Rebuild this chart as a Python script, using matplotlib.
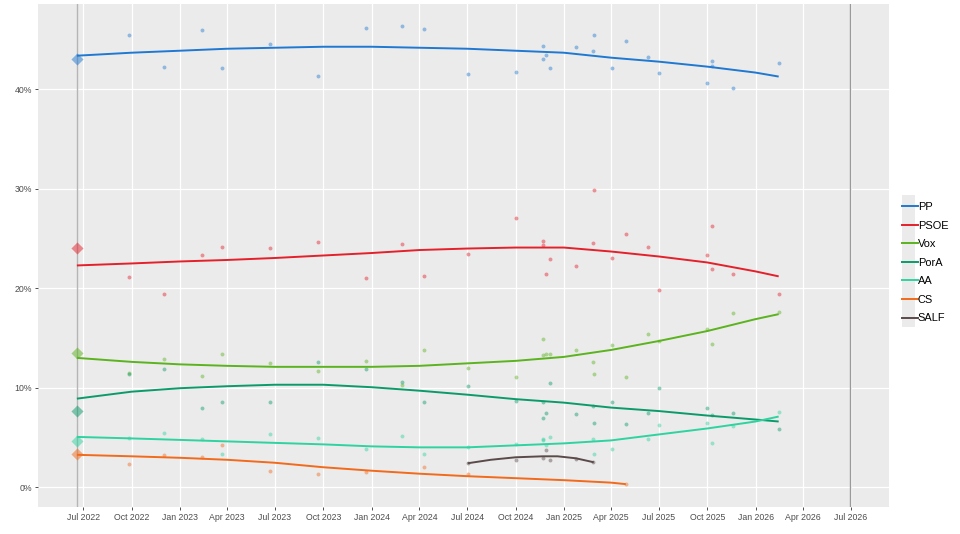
import matplotlib
matplotlib.use("Agg")
import matplotlib.pyplot as plt
import matplotlib.dates as mdates
from matplotlib.patches import Rectangle
from matplotlib.lines import Line2D
import numpy as np
import pandas as pd

plt.rcParams['font.family'] = ['Liberation Sans', 'DejaVu Sans']

parties = ["PP", "PSOE", "Vox", "PorA", "AA", "CS", "SALF"]
colors = ["#1F78D1", "#E4202A", "#5BB31E", "#0B9B6B", "#2ED3A0", "#F26A1B", "#5B4A4A"]

election_date = "2022-06-19"
election_result = {"PP": 43.1, "PSOE": 24.1, "Vox": 13.5, "PorA": 7.7, "AA": 4.6, "CS": 3.3}

N = None
poll_dates = ["2022-09-26", "2022-12-02", "2023-02-13", "2023-03-22", "2023-06-22",
              "2023-09-21", "2023-12-22", "2024-02-28", "2024-04-09", "2024-07-02",
              "2024-10-01", "2024-11-22", "2024-11-23", "2024-11-29", "2024-12-05",
              "2025-01-24", "2025-02-26", "2025-02-27", "2025-04-03", "2025-04-29",
              "2025-06-10", "2025-07-01", "2025-10-01", "2025-10-10", "2025-10-11",
              "2025-11-19", "2026-02-14"]
pp   = [45.5, 42.3, 46.0, 42.2, 44.6, 41.4, 46.2, 46.4, 46.1, 41.6, 41.8, 44.4, 43.1, 43.5, 42.2,
        44.3, 43.9, 45.5, 42.2, 44.9, 43.3, 41.7, 40.7, 42.9, 42.4, 40.1, 42.7]
psoe = [21.1, 19.4, 23.4, 24.2, 24.1, 24.7, 21.0, 24.5, 21.2, 23.5, 27.1, 24.8, 24.4, 21.4, 22.9,
        22.2, 24.6, 29.9, 23.0, 25.5, 24.2, 19.8, 23.3, 26.3, 21.9, 21.4, 19.4]
vox  = [11.5, 12.9, 11.2, 13.4, 12.5, 11.7, 12.7, 10.3, 13.8, 12.0, 11.1, 14.9, 13.3, 13.4, 13.4,
        13.8, 12.6, 11.4, 14.3, 11.1, 15.4, 14.7, 15.9, 14.4, N, 17.5, 17.6]
pora = [11.4, 11.9, 8.0, 8.6, 8.6, 12.6, 11.9, 10.6, 8.6, 10.2, 8.7, 8.6, 7.0, 7.5, 10.5,
        7.4, 8.2, 6.5, 8.6, 6.3, 7.5, 10.0, 8.0, 7.3, N, 7.5, 5.8]
aa   = [4.9, 5.4, 4.8, 3.3, 5.3, 4.9, 3.8, 5.1, 3.3, 4.0, 4.3, 4.8, 4.7, 4.2, 5.0,
        N, 4.8, 3.3, 3.8, N, 4.8, 6.2, 6.4, 4.4, N, 6.1, 7.6]
cs   = [2.3, 3.2, 3.0, 4.2, 1.6, 1.3, 1.5, N, 2.0, 1.3, N, N, N, N, N,
        N, N, N, N, 0.3, N, N, N, N, N, N, N]
salf = [N, N, N, N, N, N, N, N, N, 2.4, 2.7, 2.9, N, 3.7, 2.75,
        2.8, 2.5, N, N, N, N, N, N, N, N, N, N]
poll_values = {"PP": pp, "PSOE": psoe, "Vox": vox, "PorA": pora, "AA": aa, "CS": cs, "SALF": salf}

# Trend lines (smoothed averages)
trend_dates = ["2022-06-19", "2022-10-01", "2023-01-01", "2023-04-01", "2023-07-01", "2023-10-01",
               "2024-01-01", "2024-04-01", "2024-07-01", "2024-10-01", "2025-01-01", "2025-04-01",
               "2025-07-01", "2025-10-01", "2026-01-01", "2026-02-14"]
trend_pp   = [43.4, 43.7, 43.9, 44.1, 44.2, 44.3, 44.3, 44.2, 44.1, 43.9, 43.7, 43.2, 42.8, 42.3, 41.7, 41.3]
trend_psoe = [22.3, 22.5, 22.7, 22.85, 23.05, 23.3, 23.55, 23.85, 24.0, 24.1, 24.1, 23.7, 23.2, 22.6, 21.7, 21.2]
trend_vox  = [13.0, 12.6, 12.35, 12.2, 12.1, 12.1, 12.1, 12.2, 12.45, 12.7, 13.1, 13.8, 14.7, 15.7, 16.9, 17.4]
trend_pora = [8.9, 9.6, 9.95, 10.15, 10.3, 10.3, 10.05, 9.7, 9.3, 8.85, 8.5, 8.0, 7.65, 7.2, 6.8, 6.6]
trend_aa   = [5.05, 4.9, 4.75, 4.6, 4.45, 4.3, 4.1, 4.0, 4.0, 4.2, 4.4, 4.7, 5.3, 5.9, 6.6, 7.1]
cs_trend_dates = ["2022-06-19", "2022-10-01", "2023-01-01", "2023-04-01", "2023-07-01", "2023-10-01",
                  "2024-01-01", "2024-04-01", "2024-07-01", "2024-10-01", "2025-01-01", "2025-04-01",
                  "2025-04-29"]
trend_cs   = [3.25, 3.1, 2.95, 2.75, 2.45, 2.0, 1.65, 1.35, 1.1, 0.9, 0.7, 0.45, 0.3]
salf_trend_dates = ["2024-07-02", "2024-08-15", "2024-10-01", "2024-11-22", "2024-12-20",
                    "2025-01-24", "2025-02-27"]
trend_salf = [2.4, 2.75, 3.0, 3.1, 3.1, 2.9, 2.5]

trends = {
    "PP": (trend_dates, trend_pp), "PSOE": (trend_dates, trend_psoe),
    "Vox": (trend_dates, trend_vox), "PorA": (trend_dates, trend_pora),
    "AA": (trend_dates, trend_aa), "CS": (cs_trend_dates, trend_cs),
    "SALF": (salf_trend_dates, trend_salf),
}

tick_dates = ["2022-07-01", "2022-10-01", "2023-01-01", "2023-04-01", "2023-07-01", "2023-10-01",
              "2024-01-01", "2024-04-01", "2024-07-01", "2024-10-01", "2025-01-01", "2025-04-01",
              "2025-07-01", "2025-10-01", "2026-01-01", "2026-04-01", "2026-07-01"]
tick_labels = ["Jul 2022", "Oct 2022", "Jan 2023", "Apr 2023", "Jul 2023", "Oct 2023",
               "Jan 2024", "Apr 2024", "Jul 2024", "Oct 2024", "Jan 2025", "Apr 2025",
               "Jul 2025", "Oct 2025", "Jan 2026", "Apr 2026", "Jul 2026"]
y_ticks = [0, 10, 20, 30, 40]
y_labels = ["0%", "10%", "20%", "30%", "40%"]
next_election = "2026-06-30"

fig = plt.figure(figsize=(9.6, 5.34), dpi=100)
ax = fig.add_axes([38/960, 1-507/534, (889-38)/960, (507-4)/534])
ax.set_facecolor("#EBEBEB")
for s in ax.spines.values():
    s.set_visible(False)

pdates = pd.to_datetime(poll_dates)
ed = pd.to_datetime(election_date)

ax.axvline(ed, color="#B5B5B5", lw=1.0, zorder=1.5)
ax.axvline(pd.to_datetime(next_election), color="#9A9A9A", lw=1.0, zorder=1.5)

for p, c in zip(parties, colors):
    vals = np.array([np.nan if v is None else v for v in poll_values[p]], dtype=float)
    m = ~np.isnan(vals)
    ax.scatter(pdates[m], vals[m], s=8, color=c, alpha=0.45, linewidths=0, zorder=3)
    if p in election_result:
        ax.scatter([ed], [election_result[p]], s=38, marker="D", color=c, alpha=0.5,
                   linewidths=0, zorder=3)
    td, tv = trends[p]
    ax.plot(pd.to_datetime(td), tv, color=c, lw=1.4, zorder=4, solid_capstyle="butt")

ax.set_xlim(pd.to_datetime("2022-04-06"), pd.to_datetime("2026-09-12"))
ax.set_ylim(-2.0, 48.6)
ax.set_xticks(pd.to_datetime(tick_dates))
ax.set_xticklabels(tick_labels)
ax.set_yticks(y_ticks)
ax.set_yticklabels(y_labels)
ax.grid(True, color="white", lw=0.9, zorder=0)
ax.set_axisbelow(True)
ax.tick_params(axis="both", colors="#333333", length=2.5, width=0.6, labelsize=6.3,
               labelcolor="#4D4D4D", pad=2)

# legend
fig.patches.append(Rectangle((902/960, 1-327/534), 13/960, 132/534, transform=fig.transFigure,
                             facecolor="#EBEBEB", edgecolor="none", zorder=0))
handles = [Line2D([0], [0], color=c, lw=1.4) for c in colors]
leg = fig.legend(handles, parties, loc="upper left", bbox_to_anchor=(902/960, 1-202/534),
                 frameon=False, fontsize=7.9, handlelength=1.45, handletextpad=0.0,
                 labelspacing=0.78, borderaxespad=0, borderpad=0)

fig.savefig("out.png", dpi=100, facecolor="white")
